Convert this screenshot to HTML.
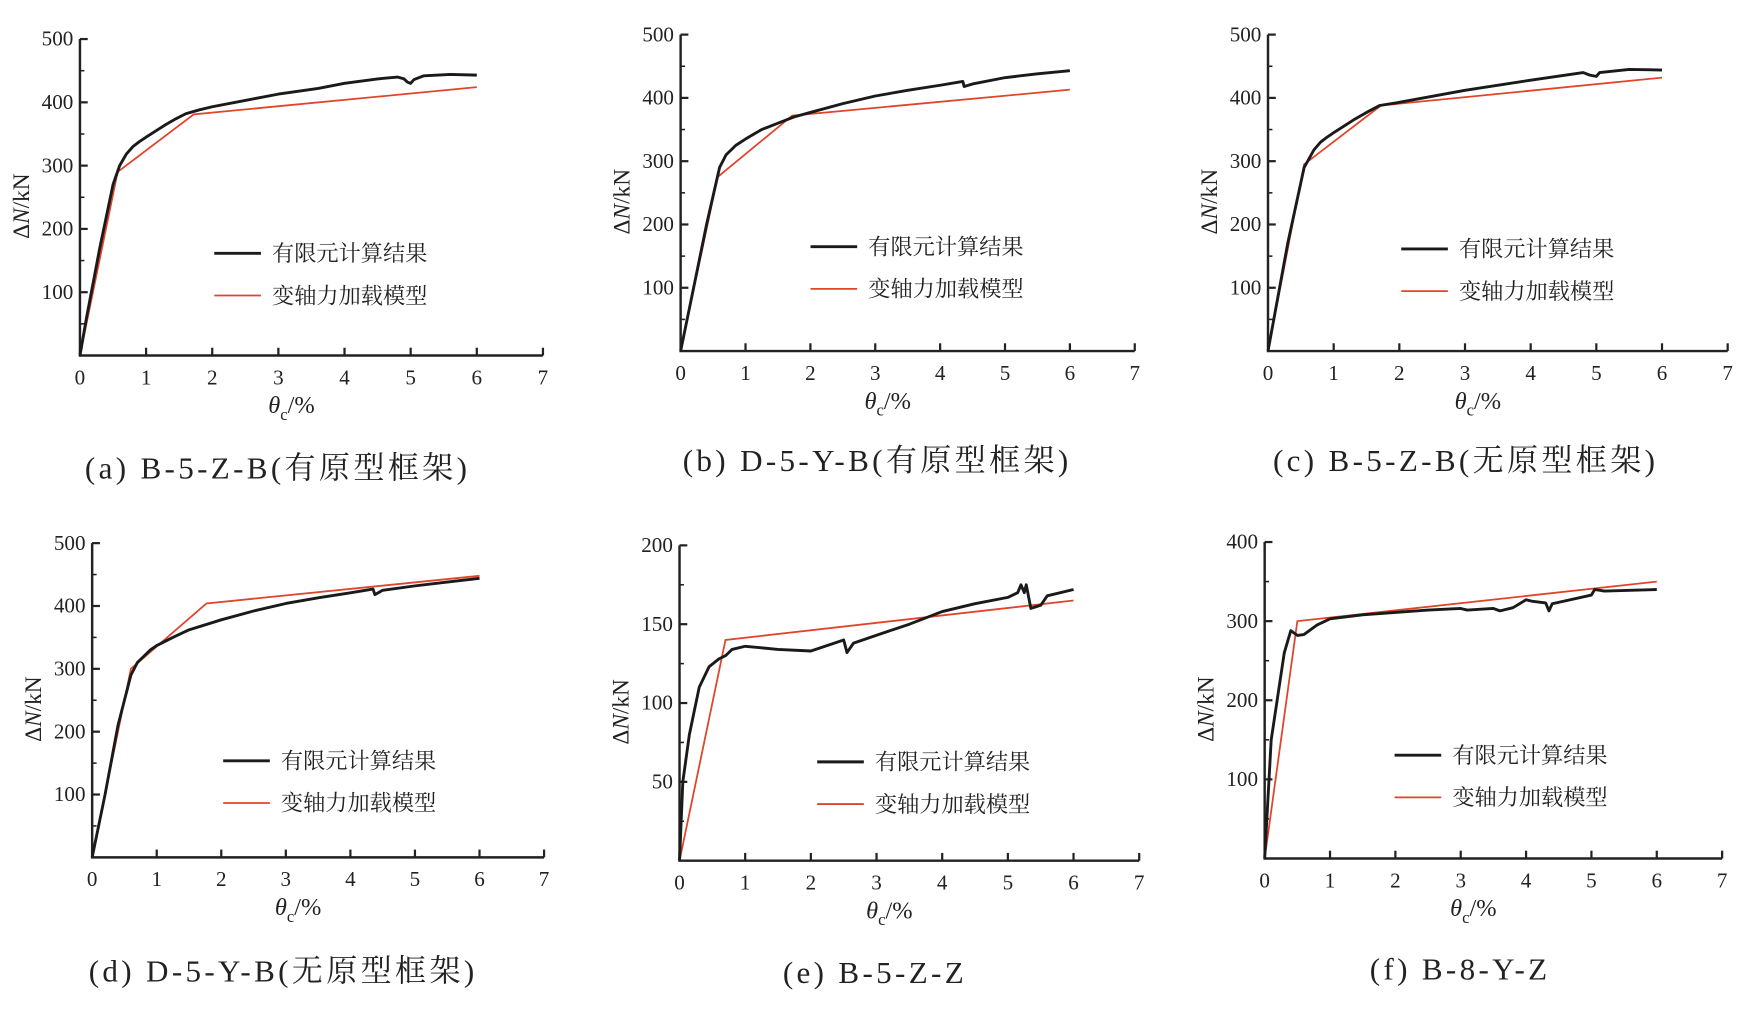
<!DOCTYPE html>
<html><head><meta charset="utf-8"><style>
html,body{margin:0;padding:0;background:#fff;}
svg{display:block;}
text{font-family:"Liberation Serif","Noto Serif CJK SC",serif;fill:#222;}
</style></head><body>
<svg id="fig" width="1741" height="1013" viewBox="0 0 1568 912" xmlns="http://www.w3.org/2000/svg"></svg>
<script>
const xTicks = [0,1,2,3,4,5,6,7];
const panelNames = ["a","b","c","d","e","f"];
const captions = ["(a) B-5-Z-B(有原型框架)","(b) D-5-Y-B(有原型框架)","(c) B-5-Z-B(无原型框架)","(d) D-5-Y-B(无原型框架)","(e) B-5-Z-Z","(f) B-8-Y-Z"];
const yMaxes = [500,500,500,500,200,400];
const yStep = [100,100,100,100,50,100];
const feX_a = [0,0.1,0.3,0.5,0.6,0.7,0.8,0.9,1,1.15,1.3,1.45,1.6,1.8,2,2.5,3,3.6,4,4.5,4.8,4.9,4.95,5.0,5.05,5.2,5.6,6];
const feY_a = [0,60,170,270,300,318,330,338,345,355,365,374,382,388,393,403,413,422,430,437,440,437,432,430,436,442,444,443];
const mdX_a = [0,0.57,1.72,6];
const mdY_a = [0,290,381,424];
const feX_b = [0,0.2,0.4,0.5,0.6,0.7,0.85,1,1.25,1.5,1.75,2,2.5,3,3.5,4,4.35,4.37,4.5,5,5.5,6];
const feY_b = [0,100,200,245,290,310,325,335,350,360,370,377,391,403,412,420,426,418,422,432,438,443];
const mdX_b = [0,0.57,1.72,6];
const mdY_b = [0,275,372,413];
const feX_c = [0,0.3,0.55,0.7,0.8,0.9,1,1.15,1.3,1.5,1.7,2,3,4,4.8,4.9,5.0,5.05,5.5,6];
const feY_c = [0,170,290,318,330,338,345,355,365,377,388,393,412,428,440,436,434,440,445,444];
const mdX_c = [0,0.55,1.72,6];
const mdY_c = [0,295,388,432];
const feX_d = [0,0.2,0.4,0.6,0.7,0.8,0.9,1,1.25,1.5,2,2.5,3,3.5,4,4.35,4.38,4.5,5,5.5,6];
const feY_d = [0,100,210,290,310,320,330,337,350,362,378,392,404,413,421,427,418,425,432,438,444];
const mdX_d = [0,0.6,1.77,6];
const mdY_d = [0,300,404,448];
const feX_e = [0,0.05,0.15,0.3,0.45,0.6,0.7,0.8,1,1.5,2,2.5,2.55,2.65,3,3.5,4,4.5,5,5.15,5.2,5.25,5.28,5.35,5.5,5.6,6];
const feY_e = [0,50,80,110,123,128,130,134,136,134,133,140,132,138,143,150,158,163,167,170,175,170,175,160,162,168,172];
const mdX_e = [0,0.7,6];
const mdY_e = [0,140,165];
const feX_f = [0,0.1,0.3,0.4,0.5,0.6,0.8,1,1.5,2,2.5,3,3.1,3.5,3.6,3.8,4,4.1,4.3,4.35,4.4,5,5.05,5.2,6];
const feY_f = [0,150,260,288,282,283,295,303,308,311,314,316,314,316,313,317,327,325,323,313,322,333,340,338,340];
const mdX_f = [0,0.5,6];
const mdY_f = [0,300,350];
const feXs=[feX_a,feX_b,feX_c,feX_d,feX_e,feX_f], feYs=[feY_a,feY_b,feY_c,feY_d,feY_e,feY_f];
const mdXs=[mdX_a,mdX_b,mdX_c,mdX_d,mdX_e,mdX_f], mdYs=[mdY_a,mdY_b,mdY_c,mdY_d,mdY_e,mdY_f];

const geom=[
 {x0:72,x7:489,yb:320,yt:35,lx:193,ly:228,cx:250,cy:431},
 {x0:613,x7:1022,yb:316,yt:31,lx:730,ly:222,cx:790,cy:424},
 {x0:1142,x7:1556,yb:316,yt:31,lx:1262,ly:224,cx:1320,cy:424},
 {x0:83,x7:490,yb:772,yt:489,lx:201,ly:685,cx:255,cy:884},
 {x0:612,x7:1026,yb:775,yt:491,lx:736,ly:686,cx:788,cy:885},
 {x0:1139,x7:1551,yb:773,yt:488,lx:1256,ly:680,cx:1315,cy:882}];
const NS="http://www.w3.org/2000/svg";
const svg=document.getElementById('fig');
function mk(tag,attrs,parent,txt){const e=document.createElementNS(NS,tag);for(const k in attrs)e.setAttribute(k,attrs[k]);if(txt!==undefined)e.textContent=txt;parent.appendChild(e);return e;}
panelNames.forEach((p,i)=>{
  const g=geom[i];
  const grp=mk('g',{},svg);
  
  
  const sx=v=>g.x0+(g.x7-g.x0)*v/7;
  const sy=v=>g.yb-(g.yb-g.yt)*v/yMaxes[i];
  const ax=mk('path',{d:`M${g.x0},${g.yt}V${g.yb}H${g.x7}`,stroke:'#222','stroke-width':2.2,fill:'none'},grp);
  
  
  xTicks.forEach(t=>{
    if(t>0) mk('line',{x1:sx(t),x2:sx(t),y1:g.yb,y2:g.yb-7,stroke:'#222','stroke-width':2},grp);
    const tl=mk('text',{x:sx(t),y:g.yb+26,'text-anchor':'middle','font-size':19},grp,String(t));
    
    
  });
  for(let v=yStep[i]/2; v<=yMaxes[i]+0.1; v+=yStep[i]/2){
    const major=Math.abs(v/yStep[i]-Math.round(v/yStep[i]))<1e-6;
    mk('line',{x1:g.x0,x2:g.x0+(major?7:4),y1:sy(v),y2:sy(v),stroke:'#222','stroke-width':major?2:1.4},grp);
    if(major){
      const tl=mk('text',{x:g.x0-6,y:sy(v)+6,'text-anchor':'end','font-size':19},grp,String(v));
      
      
    }
  }
  const yl=mk('text',{transform:`translate(${g.x0-46},${(g.yb+g.yt)/2+8}) rotate(-90)`,'text-anchor':'middle','font-size':21},grp);
  yl.innerHTML='Δ<tspan font-style="italic">N</tspan>/kN';
  
  
  const xl=mk('text',{x:(g.x0+g.x7)/2-18,y:g.yb+52,'text-anchor':'middle','font-size':22},grp);
  xl.innerHTML='<tspan font-style="italic">θ</tspan><tspan font-size="15" dy="6">c</tspan><tspan dy="-6">/%</tspan>';
  
  
  const md=mk('polyline',{points:mdXs[i].map((x,k)=>sx(x)+','+sy(mdYs[i][k])).join(' '),stroke:'#e0452b','stroke-width':1.6,fill:'none'},grp);
  
  
  const fe=mk('polyline',{points:feXs[i].map((x,k)=>sx(x)+','+sy(feYs[i][k])).join(' '),stroke:'#1a1a1a','stroke-width':2.6,fill:'none','stroke-linejoin':'round'},grp);
  
  
  const lg=mk('g',{},grp);
  
  
  mk('line',{x1:g.lx,x2:g.lx+42,y1:g.ly,y2:g.ly,stroke:'#1a1a1a','stroke-width':2.6},lg);
  mk('text',{x:g.lx+52,y:g.ly+7,'font-size':20,'font-family':'"Noto Sans CJK SC",sans-serif'},lg,'有限元计算结果');
  mk('line',{x1:g.lx,x2:g.lx+42,y1:g.ly+38,y2:g.ly+38,stroke:'#e0452b','stroke-width':1.6},lg);
  mk('text',{x:g.lx+52,y:g.ly+45,'font-size':20,'font-family':'"Noto Sans CJK SC",sans-serif'},lg,'变轴力加载模型');
  const cap=mk('text',{x:g.cx,y:g.cy,'text-anchor':'middle','font-size':28,'letter-spacing':'3'},grp,captions[i]);
  
  
});
</script>
</body></html>
